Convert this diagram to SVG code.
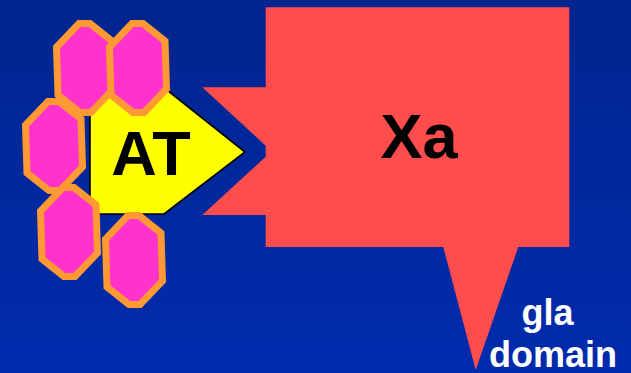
<svg xmlns="http://www.w3.org/2000/svg" width="631" height="373" viewBox="0 0 631 373">
  <defs>
    <linearGradient id="bg" x1="0" y1="0" x2="0" y2="1">
      <stop offset="0" stop-color="#00258E"/>
      <stop offset="1" stop-color="#002BAD"/>
    </linearGradient>
    <polygon id="hex" points="-6,-44.5 5,-44.5 27,-27 28.5,21 6,44.5 -5,44.5 -27,27 -28.5,-21"/>
  </defs>
  <style>
    .hex { fill: #FF33CC; stroke: #FF9933; stroke-width: 7; stroke-linejoin: miter; }
    .lbl { font-family: "Liberation Sans", Arial, sans-serif; font-weight: bold; text-anchor: middle; }
  </style>
  <rect x="0" y="0" width="631" height="373" fill="url(#bg)"/>
  <g id="connectors"/>
  <g id="xa">
    <polygon fill="#FF4C4C" points="265.7,7.3 569.3,7.3 569.3,247 518.3,247 475.7,370 443.3,247 265.7,247 265.7,215 202.3,215 265.7,156.7 265.7,145.7 202.3,87.3 265.7,87.3"/>
    <text class="lbl" x="419" y="158" font-size="63" fill="#000">Xa</text>
  </g>
  <g id="at">
    <polygon fill="#FFFF00" stroke="#000" stroke-width="1.6" points="90,90 167,90 245,152 164,214 90,214"/>
    <text class="lbl" x="151" y="175" font-size="63" fill="#000">AT</text>
  </g>
  <g id="hex1"><use href="#hex" class="hex" transform="translate(85,68)"/></g>
  <g id="hex2"><use href="#hex" class="hex" transform="translate(138,68)"/></g>
  <g id="hex3"><use href="#hex" class="hex" transform="translate(54,146)"/></g>
  <g id="hex4"><use href="#hex" class="hex" transform="translate(69,232)"/></g>
  <g id="hex5"><use href="#hex" class="hex" transform="translate(134,260)"/></g>
  <g id="gla">
    <text class="lbl" x="547.5" y="325" font-size="36" fill="#FFFFFF">gla</text>
    <text class="lbl" x="553" y="366.5" font-size="36" fill="#FFFFFF">domain</text>
  </g>
</svg>
